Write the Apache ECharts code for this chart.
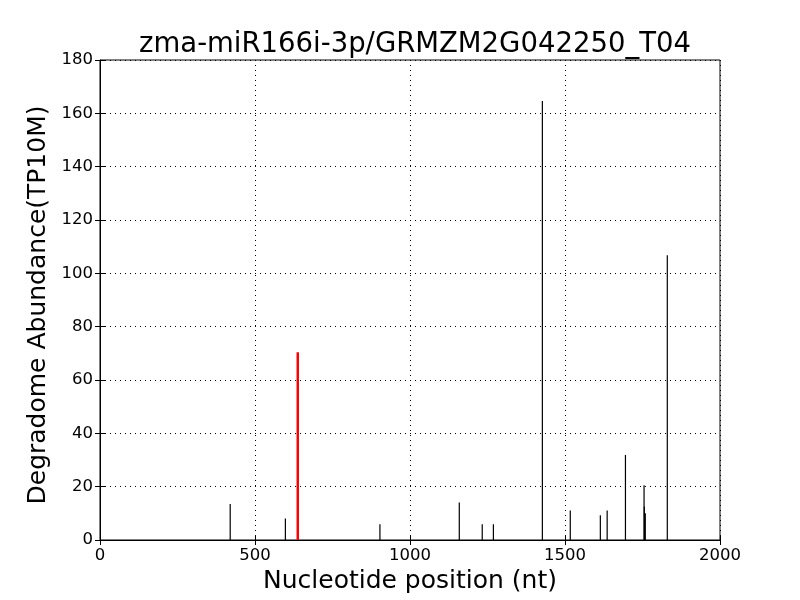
<!DOCTYPE html>
<html><head><meta charset="utf-8">
<script src="https://cdn.jsdelivr.net/npm/echarts@6/dist/echarts.min.js"></script>
<style>html,body{margin:0;padding:0;background:#fff}#c{width:800px;height:600px}</style>
</head><body><div id="c"></div>
<script>
const titleText = "zma-miR166i-3p/GRMZM2G042250_T04";
const xLabel = "Nucleotide position (nt)";
const yLabel = "Degradome Abundance(TP10M)";
const positions = [420, 598, 903, 1159, 1233, 1269, 1427, 1517, 1614, 1636, 1695, 1755, 1756, 1759, 1830];
const abundances = [13.5, 8.1, 5.9, 14.1, 5.9, 5.9, 164.6, 11.1, 9.3, 11.1, 31.9, 20.5, 12.5, 10.0, 106.8];
const targetPos = [638];
const targetVal = [70.4];

const chart = echarts.init(document.getElementById('c'));
function spikes(color, width) {
  return function (params, api) {
    const p0 = api.coord([api.value(0), 0]);
    const p1 = api.coord([api.value(0), api.value(1)]);
    return { type: 'line', shape: { x1: p0[0], y1: p0[1], x2: p1[0], y2: p1[1] },
      style: { stroke: color, lineWidth: width } };
  };
}
const font = 'DejaVu Sans';
const grid = { left: 100, right: 80, top: 60, bottom: 60, show: true, borderColor: '#000', borderWidth: 1, backgroundColor: '#fff' };
const splitLine = { show: true, lineStyle: { color: '#000', type: [1, 4], width: 1 } };
chart.setOption({
  animation: false,
  title: { text: titleText, left: 410, textAlign: 'center', top: 26, textStyle: { fontFamily: font, fontSize: 27.5, fontWeight: 'normal', color: '#000' } },
  grid: grid,
  xAxis: [{
    type: 'value', min: 0, max: 2000, interval: 500,
    name: xLabel, nameLocation: 'middle', nameGap: 29,
    nameTextStyle: { fontFamily: font, fontSize: 25, color: '#000' },
    axisLine: { show: true, lineStyle: { color: '#000' } },
    axisTick: { show: true, inside: true, length: 5, lineStyle: { color: '#000' } },
    axisLabel: { fontFamily: font, fontSize: 16.5, color: '#000', margin: 7, formatter: v => String(v) },
    splitLine: splitLine
  }, {
    type: 'value', min: 0, max: 2000, interval: 500, position: 'top',
    axisLine: { show: false }, axisLabel: { show: false }, splitLine: { show: false },
    axisTick: { show: true, inside: true, length: 5, lineStyle: { color: '#000' } }
  }],
  yAxis: [{
    type: 'value', min: 0, max: 180, interval: 20,
    name: yLabel, nameLocation: 'middle', nameGap: 41,
    nameTextStyle: { fontFamily: font, fontSize: 25, color: '#000', padding: [0, 10, 0, 0] },
    axisLine: { show: true, lineStyle: { color: '#000' } },
    axisTick: { show: true, inside: true, length: 5, lineStyle: { color: '#000' } },
    axisLabel: { fontFamily: font, fontSize: 16.5, color: '#000', margin: 7 },
    splitLine: splitLine
  }, {
    type: 'value', min: 0, max: 180, interval: 20, position: 'right',
    axisLine: { show: false }, axisLabel: { show: false }, splitLine: { show: false },
    axisTick: { show: true, inside: true, length: 5, lineStyle: { color: '#000' } }
  }],
  series: [{
    type: 'custom', renderItem: spikes('#000', 1.2),
    data: positions.map((p, i) => [p, abundances[i]])
  }, {
    type: 'custom', renderItem: spikes('#ff0000', 2.5),
    data: targetPos.map((p, i) => [p, targetVal[i]])
  }]
});
</script></body></html>
